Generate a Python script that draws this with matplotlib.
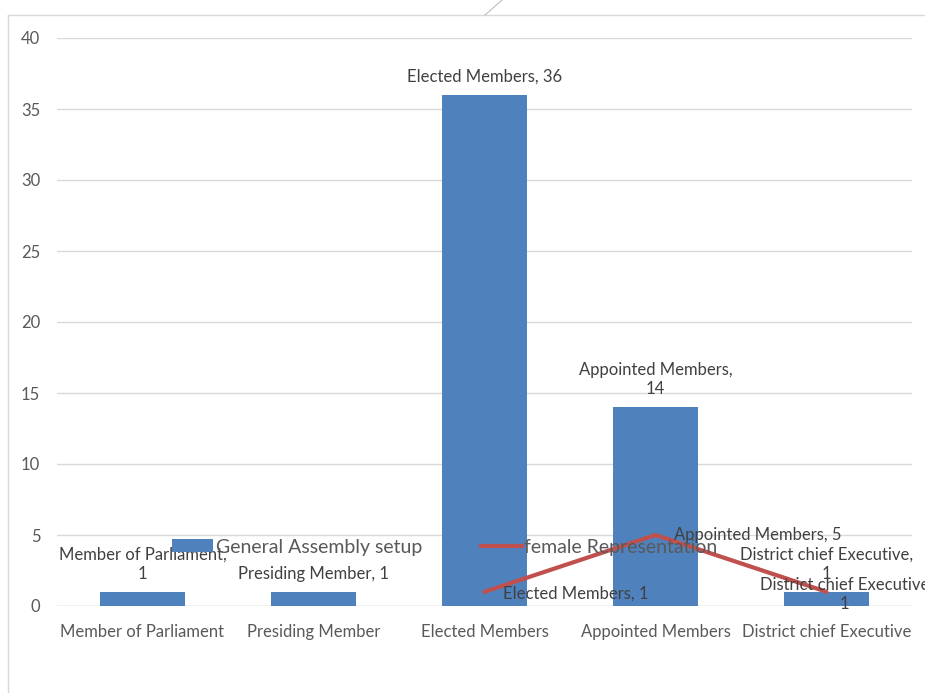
import matplotlib
matplotlib.use("Agg")
import matplotlib.pyplot as plt
from matplotlib.lines import Line2D
from matplotlib.patches import Patch

categories = ["Member of Parliament", "Presiding Member", "Elected Members",
              "Appointed Members", "District chief Executive"]
assembly_values = [1, 1, 36, 14, 1]
female_categories = ["Elected Members", "Appointed Members", "District chief Executive"]
female_values = [1, 5, 1]
y_ticks = [0, 5, 10, 15, 20, 25, 30, 35, 40]

BAR_COLOR = "#4F81BD"
LINE_COLOR = "#C0504D"
TEXT_COLOR = "#595959"
LABEL_COLOR = "#404040"
GRID_COLOR = "#D9D9D9"

plt.rcParams["font.family"] = ["Lato", "DejaVu Sans"]

W, H = 925, 693
fig = plt.figure(figsize=(W / 100, H / 100), dpi=100)
ax = fig.add_axes([57 / W, 1 - 606 / H, (912 - 57) / W, (606 - 38) / H])

x = list(range(len(categories)))
ax.bar(x, assembly_values, width=0.5, color=BAR_COLOR, zorder=2)
fx = [categories.index(c) for c in female_categories]
ax.plot(fx, female_values, color=LINE_COLOR, lw=3, solid_capstyle="round", zorder=3)

ax.set_xlim(-0.5, len(categories) - 0.5)
ax.set_ylim(0, 40)
ax.set_yticks(y_ticks)
ax.set_xticks(x)
ax.set_xticklabels(categories)
ax.tick_params(axis="both", length=0, colors=TEXT_COLOR, labelsize=12)
ax.tick_params(axis="x", pad=13)
ax.tick_params(axis="y", pad=12)
ax.grid(axis="y", color=GRID_COLOR, lw=1, zorder=0)
for s in ax.spines.values():
    s.set_visible(False)
ax.axhline(0, color=GRID_COLOR, lw=1, zorder=1)

# Bar value labels (wrapped the way the chart shows them)
bar_label_text = {
    "Member of Parliament": "Member of Parliament,\n1",
    "Presiding Member": "Presiding Member, 1",
    "Elected Members": "Elected Members, 36",
    "Appointed Members": "Appointed Members,\n14",
    "District chief Executive": "District chief Executive,\n1",
}
for i, (c, v) in enumerate(zip(categories, assembly_values)):
    ax.annotate(bar_label_text[c], (i, v), xytext=(0, 7), textcoords="offset points",
                ha="center", va="bottom", fontsize=12, color=LABEL_COLOR,
                linespacing=1.3, annotation_clip=False, zorder=4)

# Line value labels
line_labels = [
    ("Elected Members, 1", "left", (13, -1)),
    ("Appointed Members, 5", "left", (13, 0)),
    ("District chief Executive\n1", "center", (13, -2)),
]
for xi, v, (txt, ha, off) in zip(fx, female_values, line_labels):
    ax.annotate(txt, (xi, v), xytext=off, textcoords="offset points",
                ha=ha, va="center", fontsize=12, color=LABEL_COLOR,
                linespacing=1.25, annotation_clip=False, zorder=4)

handles = [Patch(facecolor=BAR_COLOR, edgecolor="none"),
           Line2D([], [], color=LINE_COLOR, lw=3)]
leg = fig.legend(handles, ["General Assembly setup", "female Representation"],
                 loc="center", bbox_to_anchor=(445 / W, 1 - 547 / H), ncol=2,
                 frameon=False, fontsize=14, handlelength=2.1, handleheight=0.6,
                 handletextpad=0.15, columnspacing=3.0, labelcolor=TEXT_COLOR)
leg.set_zorder(5)

# Chart area border and stray connector line
fig.add_artist(Line2D([8 / W, 8 / W], [0, 1 - 15 / H], transform=fig.transFigure,
                      color=GRID_COLOR, lw=1))
fig.add_artist(Line2D([8 / W, 1], [1 - 15 / H, 1 - 15 / H], transform=fig.transFigure,
                      color=GRID_COLOR, lw=1))
fig.add_artist(Line2D([485 / W, 502 / W], [1 - 15 / H, 1], transform=fig.transFigure,
                      color="#BFBFBF", lw=0.8))

fig.savefig("out.png", dpi=100)
